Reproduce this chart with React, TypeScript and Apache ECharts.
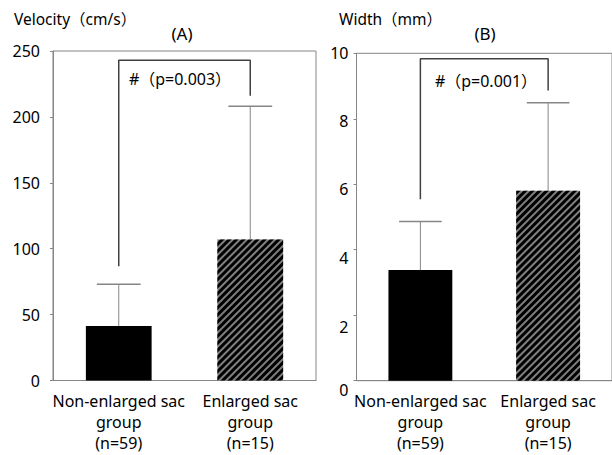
import React, { useEffect, useRef } from "react";
import * as echarts from "echarts";

const categories = ["Non-enlarged sac\ngroup\n(n=59)", "Enlarged sac\ngroup\n(n=15)"];
const velocityMean = [41.4, 107];
const velocityUpper = [73, 208];
const velocityBracket = [86.6, 243, 243, 216];
const velocityTicks = { min: 0, max: 250, interval: 50 };
const widthMean = [3.38, 5.8];
const widthUpper = [4.86, 8.49];
const widthBracket = [5.54, 9.83, 9.83, 8.86];
const widthTicks = { min: 0, max: 10, interval: 2 };
const panelTitles = ["(A)", "(B)"];
const axisNames = ["Velocity（cm/s）", "Width（mm）"];
const pTexts = ["#（p=0.003）", "#（p=0.001）"];

const FONT = '"Noto Sans", "Noto Sans CJK JP", sans-serif';
const GRAY = "#868686";
const FS = 16;
// downward drift of the right panel's tick labels (styling)
const widthLabelShift: Record<string, number> = { "0": 9, "2": 12, "4": 8, "6": 5, "8": 2, "10": 0 };

export default function App() {
  const ref = useRef<HTMLDivElement>(null);
  useEffect(() => {
    if (!ref.current) return;
    const chart = echarts.init(ref.current, undefined, { renderer: "svg" });
    const hatch = {
      color: "#808080",
      decal: {
        symbol: "rect",
        symbolSize: 1,
        dashArrayX: [1, 0],
        dashArrayY: [2.1, 1.6],
        rotation: -Math.PI / 4,
        color: "#000",
      },
    };
    const barData = (vals: number[]) =>
      vals.map((v, i) => ({ value: v, itemStyle: i === 0 ? { color: "#000" } : hatch }));
    const errData = (means: number[], ups: number[]) => means.map((m, i) => [i, m, ups[i]]);
    const bracketData = (b: number[]) => [[0, b[0]], [0, b[1]], [1, b[2]], [1, b[3]]];
    const renderErr = (params: any, api: any) => {
      const x = api.value(0);
      const base = api.coord([x, api.value(1)]);
      const top = api.coord([x, api.value(2)]);
      const bw = api.size([1, 0])[0] * 0.5;
      const half = bw / 3;
      return {
        type: "group",
        children: [
          { type: "line", shape: { x1: base[0], y1: base[1], x2: top[0], y2: top[1] }, style: { stroke: GRAY, lineWidth: 1 } },
          { type: "line", shape: { x1: top[0] - half, y1: top[1], x2: top[0] + half, y2: top[1] }, style: { stroke: GRAY, lineWidth: 1.5 } },
        ],
      };
    };
    const xAxisBase = {
      type: "category",
      data: categories,
      axisLine: { show: true, lineStyle: { color: GRAY, width: 1 } },
      axisTick: { show: false },
      axisLabel: { color: "#000", fontSize: FS, fontFamily: FONT, lineHeight: 21, margin: 10, interval: 0 },
    };
    const yAxisBase = {
      type: "value",
      splitLine: { show: false },
      axisLine: { show: true, lineStyle: { color: GRAY, width: 1 } },
      axisTick: { show: true, length: 3, lineStyle: { color: GRAY } },
    };
    const txt = { fontSize: FS, fontFamily: FONT, fill: "#000", align: "center", verticalAlign: "middle" };
    chart.setOption({
      animation: false,
      grid: [
        { left: 53, right: 296, top: 51, bottom: 74.5, show: true, borderColor: GRAY, borderWidth: 1 },
        { left: 356.5, right: -2, top: 53.3, bottom: 74.3, show: true, borderColor: GRAY, borderWidth: 1 },
      ],
      xAxis: [
        { ...xAxisBase, gridIndex: 0 },
        { ...xAxisBase, gridIndex: 1 },
      ],
      yAxis: [
        {
          ...yAxisBase,
          gridIndex: 0,
          ...velocityTicks,
          axisLabel: { color: "#000", fontSize: FS, fontFamily: FONT, margin: 13 },
        },
        {
          ...yAxisBase,
          gridIndex: 1,
          ...widthTicks,
          axisLabel: {
            color: "#000",
            fontSize: FS,
            fontFamily: FONT,
            margin: 8,
            formatter: (v: number) => `{s${v}|${v}}`,
            rich: Object.fromEntries(
              Object.entries(widthLabelShift).map(([k, s]) => [
                "s" + k,
                { fontSize: FS, fontFamily: FONT, color: "#000", padding: [2 * s, 0, 0, 0] },
              ])
            ),
          },
        },
      ],
      title: [
        { text: axisNames[0], left: 9, top: 6, textStyle: { fontSize: 15.5, fontWeight: "normal", color: "#000", fontFamily: FONT } },
        { text: axisNames[1], left: 334, top: 6, textStyle: { fontSize: 15.5, fontWeight: "normal", color: "#000", fontFamily: FONT } },
      ],
      graphic: [
        { type: "text", x: 182, y: 33, style: { ...txt, text: panelTitles[0], fontSize: 17 } },
        { type: "text", x: 485, y: 33, style: { ...txt, text: panelTitles[1], fontSize: 17 } },
        { type: "text", x: 180, y: 79, style: { ...txt, text: pTexts[0] } },
        { type: "text", x: 486, y: 80.5, style: { ...txt, text: pTexts[1] } },
      ],
      series: [
        { type: "bar", xAxisIndex: 0, yAxisIndex: 0, barWidth: "50%", data: barData(velocityMean) },
        { type: "custom", xAxisIndex: 0, yAxisIndex: 0, renderItem: renderErr, data: errData(velocityMean, velocityUpper), z: 3 },
        { type: "line", xAxisIndex: 0, yAxisIndex: 0, data: bracketData(velocityBracket), symbol: "none", lineStyle: { color: "#404040", width: 1.5 } },
        { type: "bar", xAxisIndex: 1, yAxisIndex: 1, barWidth: "50%", data: barData(widthMean) },
        { type: "custom", xAxisIndex: 1, yAxisIndex: 1, renderItem: renderErr, data: errData(widthMean, widthUpper), z: 3 },
        { type: "line", xAxisIndex: 1, yAxisIndex: 1, data: bracketData(widthBracket), symbol: "none", lineStyle: { color: "#404040", width: 1.5 } },
      ],
    });
    return () => chart.dispose();
  }, []);
  return <div ref={ref} style={{ position: "absolute", left: 0, top: 0, width: 612, height: 455 }} />;
}
